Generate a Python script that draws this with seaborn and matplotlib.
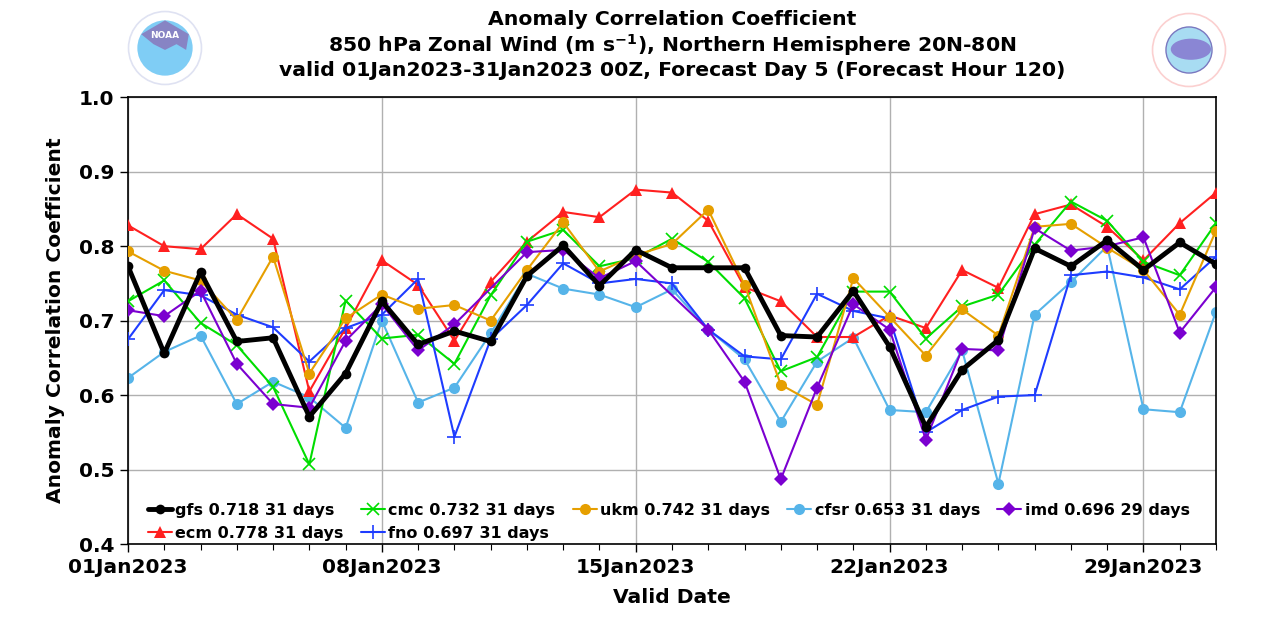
import numpy as np
import pandas as pd
import matplotlib
matplotlib.use("Agg")
import matplotlib.pyplot as plt
import matplotlib.dates as mdates
from matplotlib.patches import Circle, Ellipse, Polygon
import seaborn as sns

dates = pd.date_range("2023-01-01", "2023-01-31", freq="D")

gfs = [0.773, 0.656, 0.765, 0.672, 0.677, 0.571, 0.629, 0.726, 0.668, 0.686,
       0.672, 0.760, 0.801, 0.747, 0.795, 0.771, 0.771, 0.771, 0.680, 0.678,
       0.740, 0.665, 0.557, 0.634, 0.674, 0.797, 0.773, 0.808, 0.768, 0.805, 0.776]
ecm = [0.828, 0.800, 0.796, 0.843, 0.810, 0.605, 0.690, 0.781, 0.748, 0.673,
       0.752, 0.806, 0.846, 0.839, 0.876, 0.872, 0.834, 0.745, 0.726, 0.678,
       0.678, 0.707, 0.690, 0.768, 0.744, 0.843, 0.856, 0.826, 0.781, 0.831, 0.872]
cmc = [0.726, 0.754, 0.697, 0.667, 0.611, 0.507, 0.727, 0.676, 0.681, 0.642,
       0.734, 0.806, 0.822, 0.773, 0.784, 0.810, 0.779, 0.730, 0.632, 0.651,
       0.739, 0.739, 0.676, 0.719, 0.735, 0.802, 0.860, 0.834, 0.779, 0.761, 0.831]
fno = [0.675, 0.741, 0.734, 0.708, 0.691, 0.645, 0.690, 0.708, 0.756, 0.544,
       0.675, 0.721, 0.777, 0.750, 0.756, 0.750, 0.688, 0.652, 0.648, 0.736,
       0.713, 0.703, 0.550, 0.580, 0.598, 0.600, 0.761, 0.766, 0.758, 0.742, 0.786]
ukm = [0.793, 0.767, 0.754, 0.701, 0.786, 0.629, 0.703, 0.735, 0.716, 0.721,
       0.700, 0.768, 0.832, 0.766, 0.788, 0.803, 0.849, 0.748, 0.614, 0.587,
       0.757, 0.705, 0.653, 0.715, 0.680, 0.826, 0.830, 0.798, 0.768, 0.708, 0.821]
cfsr = [0.623, 0.658, 0.680, 0.588, 0.618, 0.597, 0.556, 0.700, 0.590, 0.610,
        0.683, 0.763, 0.743, 0.735, 0.718, 0.742, 0.688, 0.648, 0.564, 0.645,
        0.677, 0.580, 0.577, 0.660, 0.481, 0.708, 0.752, 0.800, 0.581, 0.577, 0.712]
imd = [0.714, 0.706, 0.740, 0.642, 0.588, 0.583, 0.673, 0.722, 0.660, 0.695,
       np.nan, 0.792, 0.795, 0.757, 0.780, np.nan, 0.688, 0.618, 0.487, 0.610,
       0.722, 0.688, 0.540, 0.662, 0.660, 0.824, 0.794, 0.800, 0.812, 0.684, 0.745]

labels = {
    "gfs": "gfs 0.718 31 days",
    "ecm": "ecm 0.778 31 days",
    "cmc": "cmc 0.732 31 days",
    "fno": "fno 0.697 31 days",
    "ukm": "ukm 0.742 31 days",
    "cfsr": "cfsr 0.653 31 days",
    "imd": "imd 0.696 29 days",
}
series = {"gfs": gfs, "ecm": ecm, "cmc": cmc, "fno": fno,
          "ukm": ukm, "cfsr": cfsr, "imd": imd}
styles = {
    "gfs": dict(color="#000000", marker="o", lw=3.5, ms=7, mew=0),
    "ecm": dict(color="#FF2020", marker="^", lw=1.5, ms=9, mew=0),
    "cmc": dict(color="#00DD00", marker="x", lw=1.5, ms=9, mew=1.2),
    "fno": dict(color="#1E3CFF", marker="+", lw=1.5, ms=9.5, mew=1.2),
    "ukm": dict(color="#E69F00", marker="o", lw=1.5, ms=8, mew=0),
    "cfsr": dict(color="#56B4E9", marker="o", lw=1.5, ms=8, mew=0),
    "imd": dict(color="#7B00D0", marker="D", lw=1.5, ms=7, mew=0),
}
zorder = {"gfs": 10, "ecm": 3, "cmc": 4, "fno": 5, "ukm": 6, "cfsr": 2, "imd": 7}

sns.set_style("white")
plt.rcParams["font.family"] = ["DejaVu Sans"]
plt.rcParams["font.weight"] = "bold"
plt.rcParams["mathtext.default"] = "bf"
for k in ["text.color", "axes.labelcolor", "xtick.color", "ytick.color", "axes.edgecolor"]:
    plt.rcParams[k] = "black"

fig = plt.figure(figsize=(12.8, 6.4), dpi=100)
ax = fig.add_axes([0.1, 0.15, 0.85, 0.698])

for name in ["cfsr", "ecm", "cmc", "fno", "ukm", "imd", "gfs"]:
    st = styles[name]
    df = pd.DataFrame({"date": dates, "v": series[name]}).dropna()
    sns.lineplot(data=df, x="date", y="v", ax=ax, color=st["color"],
                 marker=st["marker"], linewidth=st["lw"], markersize=st["ms"],
                 markeredgewidth=st["mew"], markeredgecolor=st["color"],
                 label=labels[name], zorder=zorder[name])

ax.set_xlim(dates[0], dates[-1])
ax.set_ylim(0.4, 1.0)
yt = np.arange(0.4, 1.01, 0.1)
ax.set_yticks(yt)
ax.set_yticklabels([f"{v:.1f}" for v in yt])
ax.xaxis.set_major_locator(mdates.DayLocator(bymonthday=[1, 8, 15, 22, 29]))
ax.xaxis.set_major_formatter(mdates.DateFormatter("%d%b%Y"))
ax.xaxis.set_minor_locator(mdates.DayLocator())
ax.tick_params(axis="both", which="major", labelsize=14.5, length=6, width=1,
               direction="out", bottom=True, left=True, pad=4)
ax.tick_params(axis="x", which="minor", length=4, width=0.8, bottom=True)
for lab in ax.get_xticklabels() + ax.get_yticklabels():
    lab.set_fontweight("bold")
ax.grid(True, which="major", color="#b0b0b0", lw=1)
for s in ax.spines.values():
    s.set_color("black")
    s.set_linewidth(1.2)

ax.set_xlabel("Valid Date", fontsize=14.6, fontweight="bold", labelpad=8)
ax.set_ylabel("Anomaly Correlation Coefficient", fontsize=14.6, fontweight="bold", labelpad=10)
ax.set_title("Anomaly Correlation Coefficient\n"
             "850 hPa Zonal Wind (m s$^{-1}$), Northern Hemisphere 20N-80N\n"
             "valid 01Jan2023-31Jan2023 00Z, Forecast Day 5 (Forecast Hour 120)",
             fontsize=14.7, fontweight="bold", pad=15, linespacing=1.2)

handles, labs = ax.get_legend_handles_labels()
order = ["gfs", "ecm", "cmc", "fno", "ukm", "cfsr", "imd"]
hmap = dict(zip(labs, handles))
ax.legend([hmap[labels[k]] for k in order], [labels[k] for k in order],
          ncol=5, loc="lower left", frameon=False, handlelength=1.5,
          handletextpad=0.2, columnspacing=1.1, labelspacing=0.5,
          prop=dict(size=11.5, weight="bold"), bbox_to_anchor=(0.005, -0.025))

# simple logo approximations
lax = fig.add_axes([165/1280 - 0.03, 1 - 48/640 - 0.06, 0.06, 0.12])
lax.set_xlim(-1, 1); lax.set_ylim(-1, 1); lax.set_aspect("equal"); lax.axis("off")
lax.add_patch(Circle((0, 0), 0.95, fc="white", ec="#dfe2f2", lw=1.2))
lax.add_patch(Circle((0, 0), 0.72, fc="#7fcdf5", ec="none"))
lax.add_patch(Polygon([[-0.62, 0.36], [0, 0.72], [0.62, 0.36], [0.55, -0.05],
                       [0.3, 0.1], [0.0, -0.05], [-0.3, 0.1]], closed=True,
                      fc="#8784c4", ec="none"))
lax.text(0, 0.33, "NOAA", ha="center", va="center", fontsize=6.5,
         color="white", fontweight="bold")

nax = fig.add_axes([1189/1280 - 0.03, 1 - 50/640 - 0.06, 0.06, 0.12])
nax.set_xlim(-1, 1); nax.set_ylim(-1, 1); nax.set_aspect("equal"); nax.axis("off")
nax.add_patch(Circle((0, 0), 0.95, fc="white", ec="#fbd0d0", lw=1.2))
nax.add_patch(Circle((0, 0), 0.6, fc="#a8dcf2", ec="#7a78c0", lw=1))
nax.add_patch(Ellipse((0.05, 0.02), 1.05, 0.55, fc="#8a86d4", ec="none"))

fig.savefig("out.png", dpi=100)
